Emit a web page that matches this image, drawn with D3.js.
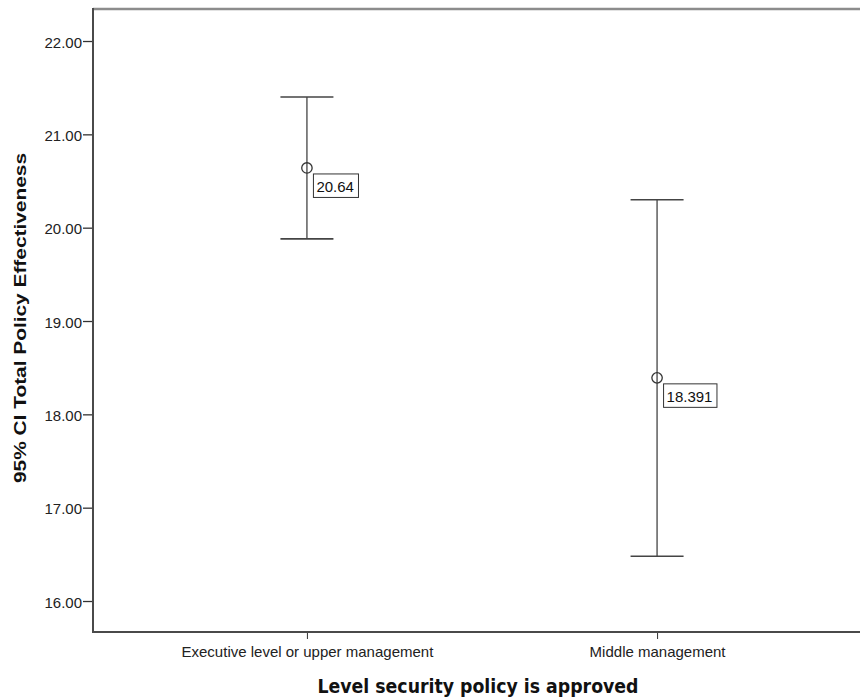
<!DOCTYPE html>
<html>
<head>
<meta charset="utf-8">
<script src="https://cdn.jsdelivr.net/npm/d3@7/dist/d3.min.js"></script>
<style>
  html, body { margin: 0; padding: 0; background: #fff; }
  svg { display: block; }
</style>
</head>
<body>
<svg id="chart" width="860" height="698"></svg>
<script>
// Group means with 95% confidence intervals
const categories = ["Executive level or upper management", "Middle management"];
const means = [20.64, 18.391];
const ciLower = [19.88, 16.48];
const ciUpper = [21.40, 20.30];
const meanLabels = ["20.64", "18.391"];
const yTicks = [16, 17, 18, 19, 20, 21, 22];

const svg = d3.select("#chart");
const plot = { left: 93, right: 871, top: 9, bottom: 632 };

const x = d3.scalePoint()
  .domain(categories)
  .range([plot.left, plot.right])
  .padding(0.611);

const y = d3.scaleLinear()
  .domain([15.668, 22.343])
  .range([plot.bottom, plot.top]);

const axisColor = "#4a4a4a";
const tickFont = "'Liberation Sans', Arial, sans-serif";

// Top frame line
svg.append("line")
  .attr("x1", plot.left).attr("x2", plot.right)
  .attr("y1", plot.top).attr("y2", plot.top)
  .attr("stroke", "#8c8c8c").attr("stroke-width", 2.5);

// Y axis
const yAxis = svg.append("g")
  .attr("transform", `translate(${plot.left},0)`)
  .call(d3.axisLeft(y).tickValues(yTicks).tickFormat(d3.format(".2f")).tickSize(10).tickSizeOuter(0));
yAxis.select(".domain").remove();
yAxis.selectAll(".tick line").attr("stroke", "#333").attr("stroke-width", 1.3);
yAxis.selectAll(".tick text")
  .attr("x", -11)
  .attr("dy", "0.42em")
  .attr("font-family", tickFont).attr("font-size", 15).attr("fill", "#222");

svg.append("line")
  .attr("x1", plot.left).attr("x2", plot.left)
  .attr("y1", plot.top - 1).attr("y2", plot.bottom + 1)
  .attr("stroke", axisColor).attr("stroke-width", 2);

// X axis
const xAxis = svg.append("g")
  .attr("transform", `translate(0,${plot.bottom})`)
  .call(d3.axisBottom(x).tickSize(7).tickSizeOuter(0));
xAxis.select(".domain").remove();
xAxis.selectAll(".tick line").attr("stroke", "#333").attr("stroke-width", 1);
xAxis.selectAll(".tick text")
  .attr("y", 25).attr("dy", 0)
  .attr("font-family", tickFont).attr("font-size", 15).attr("fill", "#222");

svg.append("line")
  .attr("x1", plot.left).attr("x2", plot.right)
  .attr("y1", plot.bottom).attr("y2", plot.bottom)
  .attr("stroke", axisColor).attr("stroke-width", 2);

// Error bars
const capHalf = 26.5;
const rows = categories.map((c, i) => ({
  cat: c, mean: means[i], lo: ciLower[i], hi: ciUpper[i], label: meanLabels[i]
}));

const bars = svg.append("g").selectAll("g").data(rows).join("g");
bars.append("line")
  .attr("x1", d => x(d.cat)).attr("x2", d => x(d.cat))
  .attr("y1", d => y(d.hi)).attr("y2", d => y(d.lo))
  .attr("stroke", "#444").attr("stroke-width", 1.3);
bars.append("line")
  .attr("x1", d => x(d.cat) - capHalf).attr("x2", d => x(d.cat) + capHalf)
  .attr("y1", d => y(d.hi)).attr("y2", d => y(d.hi))
  .attr("stroke", "#444").attr("stroke-width", 1.6);
bars.append("line")
  .attr("x1", d => x(d.cat) - capHalf).attr("x2", d => x(d.cat) + capHalf)
  .attr("y1", d => y(d.lo)).attr("y2", d => y(d.lo))
  .attr("stroke", "#444").attr("stroke-width", 1.6);
bars.append("circle")
  .attr("cx", d => x(d.cat)).attr("cy", d => y(d.mean))
  .attr("r", 5.2)
  .attr("fill", "none").attr("stroke", "#333").attr("stroke-width", 1.3);

// Value labels in boxes
bars.each(function(d) {
  const g = d3.select(this);
  const t = g.append("text")
    .attr("x", x(d.cat) + 9.5)
    .attr("y", y(d.mean) + 24)
    .attr("font-family", tickFont).attr("font-size", 15).attr("fill", "#111")
    .text(d.label);
  const bb = t.node().getBBox();
  g.insert("rect", "text")
    .attr("x", x(d.cat) + 6.5).attr("y", y(d.mean) + 6)
    .attr("width", bb.width + 7.5).attr("height", 23.5)
    .attr("fill", "#fff").attr("stroke", "#333").attr("stroke-width", 1);
});

// Axis titles
svg.append("text")
  .attr("x", 478)
  .attr("y", 693)
  .attr("text-anchor", "middle")
  .attr("font-family", "'DejaVu Sans', sans-serif").attr("font-weight", "bold")
  .attr("font-size", 19).attr("fill", "#111")
  .attr("textLength", 321).attr("lengthAdjust", "spacingAndGlyphs")
  .text("Level security policy is approved");

svg.append("text")
  .attr("transform", `translate(26,318) rotate(-90)`)
  .attr("text-anchor", "middle")
  .attr("font-family", "'Liberation Sans', Arial, sans-serif").attr("font-weight", "bold")
  .attr("font-size", 16).attr("fill", "#111")
  .attr("textLength", 330).attr("lengthAdjust", "spacingAndGlyphs")
  .text("95% CI Total Policy Effectiveness");
</script>
</body>
</html>
